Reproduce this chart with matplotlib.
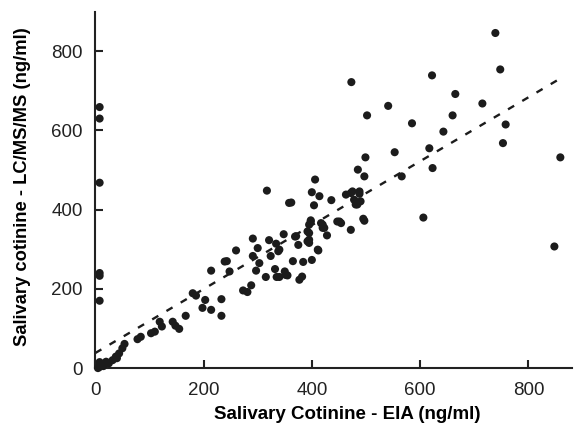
import matplotlib
matplotlib.use("Agg")
import matplotlib.pyplot as plt
import numpy as np

plt.rcParams['font.family'] = ['Liberation Sans', 'DejaVu Sans']

# EIA (x) vs LC/MS/MS (y) salivary cotinine, ng/ml
eia = [8, 8, 8, 8, 8, 8, 8, 8, 8, 5, 10,
       15, 20, 25, 32, 38, 44, 50, 54, 40,
       78, 84, 103, 110, 119, 123, 143, 148, 155, 167, 180, 186, 198, 203, 214, 233, 233,
       214, 239, 243, 248, 260, 273, 281, 288, 291, 291, 297, 300, 303, 315, 317, 321,
       324, 332, 334, 335, 338, 340, 340, 348, 350, 352, 355, 358, 362, 365, 369, 371,
       375, 377, 382, 384, 392, 392, 395, 395, 395, 395, 398, 398, 400, 400, 404, 406,
       411, 412, 414, 417, 420, 420, 423, 428, 436, 447, 451, 454, 463, 472, 472, 473,
       478, 484, 488, 488, 481, 490, 475, 485, 495, 497, 497, 499, 502, 541, 553, 566,
       585, 606, 617, 622, 623, 643, 660, 665, 715, 739, 748, 753, 758, 848, 859]
lcms = [659, 630, 468, 240, 233, 170, 15, 8, 3, 0, 10,
        5, 16, 12, 20, 29, 37, 50, 61, 25,
        73, 79, 88, 92, 117, 105, 117, 107, 99, 132, 189, 183, 152, 172, 147, 174, 132,
        246, 269, 270, 244, 297, 196, 192, 209, 327, 283, 246, 303, 265, 230, 448, 323,
        283, 250, 314, 230, 295, 299, 230, 338, 244, 235, 234, 417, 418, 270, 332, 333,
        311, 223, 231, 268, 320, 345, 316, 341, 362, 324, 370, 373, 444, 273, 411, 476,
        299, 297, 434, 366, 354, 362, 354, 335, 424, 370, 370, 366, 438, 442, 349, 722,
        425, 413, 446, 440, 413, 421, 446, 501, 377, 372, 484, 532, 638, 662, 545, 484,
        618, 380, 555, 739, 505, 597, 638, 692, 668, 846, 754, 568, 615, 307, 532]

# fitted line
fit_slope = 0.807
fit_intercept = 38
fit_range = [0, 855]

x_ticks = [0, 200, 400, 600, 800]
y_ticks = [0, 200, 400, 600, 800]

fig = plt.figure(figsize=(5.74, 4.30), dpi=100)
ax = fig.add_axes([0.166, 0.144, 0.83, 0.829])

ax.scatter(eia, lcms, s=34, color='#1c1c1c', edgecolors='none', zorder=3, clip_on=False)
fx = np.array(fit_range, dtype=float)
ax.plot(fx, fit_slope * fx + fit_intercept, color='#1c1c1c', lw=1.7,
        linestyle=(0, (3.0, 4.0)), zorder=2)

ax.set_xlim(0, 880)
ax.set_ylim(0, 900)
ax.set_xticks(x_ticks)
ax.set_yticks(y_ticks)
ax.spines['top'].set_visible(False)
ax.spines['right'].set_visible(False)
for s in ['left', 'bottom']:
    ax.spines[s].set_linewidth(1.5)
    ax.spines[s].set_color('#222222')
ax.tick_params(direction='in', length=6, width=1.5, labelsize=13.5, colors='#222222')
ax.tick_params(axis='x', pad=10)
ax.tick_params(axis='y', pad=9)
ax.set_xlabel('Salivary Cotinine - EIA (ng/ml)', fontsize=13.5, fontweight='bold')
ax.set_ylabel('Salivary cotinine - LC/MS/MS (ng/ml)', fontsize=13.2, fontweight='bold')
ax.xaxis.set_label_coords(0.528, -0.106)
ax.yaxis.set_label_coords(-0.134, 0.508)

fig.savefig('out.png', dpi=100)
